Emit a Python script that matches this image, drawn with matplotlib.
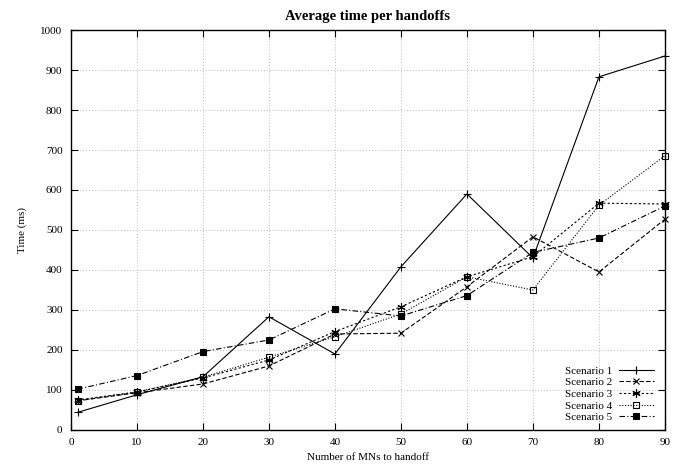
import matplotlib
matplotlib.use("Agg")
import matplotlib.pyplot as plt

mns = [1, 10, 20, 30, 40, 50, 60, 70, 80, 90]
scenario_1 = [44, 88, 133, 283, 190, 408, 590, 430, 883, 935]
scenario_2 = [73, 93, 115, 160, 240, 242, 358, 483, 395, 527]
scenario_3 = [75, 95, 130, 175, 246, 308, 383, 433, 567, 565]
scenario_4 = [73, 95, 132, 182, 233, 290, 383, 350, 562, 686]
scenario_5 = [102, 136, 196, 225, 303, 285, 336, 444, 480, 560]
labels = ["Scenario 1", "Scenario 2", "Scenario 3", "Scenario 4", "Scenario 5"]

plt.rcParams["font.family"] = ["Liberation Serif", "DejaVu Serif"]

fig = plt.figure(figsize=(6.82, 4.66), dpi=100)
ax = fig.add_axes([0.104, 0.0773, 0.871, 0.8583])

styles = [
    dict(linestyle="-", marker="+", markersize=6, mfc="black"),
    dict(linestyle=(0, (4, 2)), marker="x", markersize=5, mfc="black"),
    dict(linestyle=(0, (2, 2)), marker=(6, 2, 0), markersize=6, mfc="black"),
    dict(linestyle=(0, (1, 1.5)), marker="s", markersize=5, mfc="none"),
    dict(linestyle=(0, (5, 2, 1, 2)), marker="s", markersize=5, mfc="black"),
]
series = [scenario_1, scenario_2, scenario_3, scenario_4, scenario_5]
for vals, lab, st in zip(series, labels, styles):
    ax.plot(mns, vals, color="black", linewidth=0.8, mec="black",
            mew=0.8, label=lab, clip_on=False, zorder=3, **st)

ax.set_xlim(0, 90)
ax.set_ylim(0, 1000)
ax.set_xticks(range(0, 91, 10))
ax.set_yticks(range(0, 1001, 100))
ax.tick_params(direction="in", length=5, width=0.8, top=True, right=True,
               labelsize=8, pad=6)
ax.grid(True, color="#bbbbbb", linestyle=(0, (1, 2)), linewidth=0.7)
for sp in ax.spines.values():
    sp.set_linewidth(1.0)
    sp.set_zorder(4)

ax.set_xlabel("Number of MNs to handoff", fontsize=8, labelpad=4)
ax.set_ylabel("Time (ms)", fontsize=8, labelpad=10)
ax.set_title("Average time per handoffs", fontsize=10.5, fontweight="bold", pad=7)

leg = ax.legend(loc="lower right", frameon=False, markerfirst=False,
                fontsize=8, handlelength=3.2, handletextpad=0.6,
                labelspacing=0.17, borderaxespad=0.3,
                bbox_to_anchor=(0.995, 0.0))
for t in leg.get_texts():
    t.set_ha("right")

fig.savefig("out.png", dpi=100)
